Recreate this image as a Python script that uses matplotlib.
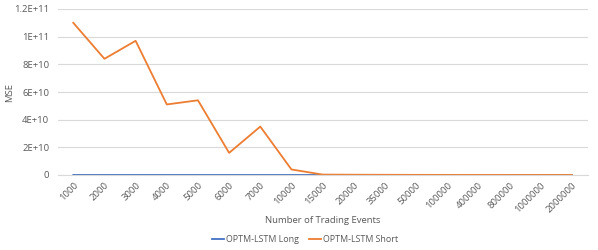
import matplotlib
matplotlib.use("Agg")
import matplotlib.pyplot as plt
from matplotlib.ticker import FixedFormatter

events = ['1000', '2000', '3000', '4000', '5000', '6000', '7000', '10000', '15000',
          '20000', '35000', '50000', '100000', '400000', '800000', '1000000', '2000000']
mse_long = [2e7, 1.8e7, 1.6e7, 1.4e7, 1.2e7, 1e7, 9e6, 7e6, 5e6,
            4e6, 3e6, 2.5e6, 2e6, 1.5e6, 1.2e6, 1e6, 8e5]
mse_short = [1.10e11, 8.4e10, 9.7e10, 5.1e10, 5.4e10, 1.6e10, 3.5e10, 4.0e9, 3e8,
             2e8, 1.5e8, 1e8, 8e7, 6e7, 5e7, 4e7, 3e7]
yticks = [0, 2e10, 4e10, 6e10, 8e10, 1e11, 1.2e11]
ytick_labels = ['0', '2E+10', '4E+10', '6E+10', '8E+10', '1E+11', '1.2E+11']

plt.rcParams['font.family'] = ['Open Sans', 'DejaVu Sans']
txt = '#595959'

fig = plt.figure(figsize=(5.98, 2.5), dpi=100)
ax = fig.add_axes([0.0965, 0.30, 0.886, 0.664])

x = range(len(events))
ax.plot(x, mse_long, color='#4472C4', lw=1.3, label='OPTM-LSTM Long')
ax.plot(x, mse_short, color='#ED7D31', lw=1.3, label='OPTM-LSTM Short')

ax.set_xlim(-0.5, len(events) - 0.5)
ax.set_ylim(0, 1.2e11)
ax.set_yticks(yticks)
ax.yaxis.set_major_formatter(FixedFormatter(ytick_labels))
ax.set_xticks(list(x))
ax.set_xticklabels(events, rotation=45, ha='right', rotation_mode='anchor', fontsize=6.8, color=txt)
ax.tick_params(axis='y', labelsize=6.8, labelcolor=txt, length=0, pad=6)
ax.tick_params(axis='x', length=0, pad=4)
ax.grid(axis='y', color='#D9D9D9', lw=0.8)
ax.set_axisbelow(True)
for s in ['top', 'right', 'left']:
    ax.spines[s].set_visible(False)
ax.spines['bottom'].set_color('#D9D9D9')

ax.set_ylabel('MSE', fontsize=6.8, color=txt)
ax.yaxis.set_label_coords(-0.083, 0.5)
ax.set_xlabel('Number of Trading Events', fontsize=6.8, color=txt, labelpad=1)
fig.legend(loc='lower center', bbox_to_anchor=(0.51, -0.01), ncol=2, frameon=False,
           fontsize=6.4, labelcolor=txt, handlelength=1.3, handletextpad=0.2, columnspacing=1.2)

fig.savefig('out.png', dpi=100)
